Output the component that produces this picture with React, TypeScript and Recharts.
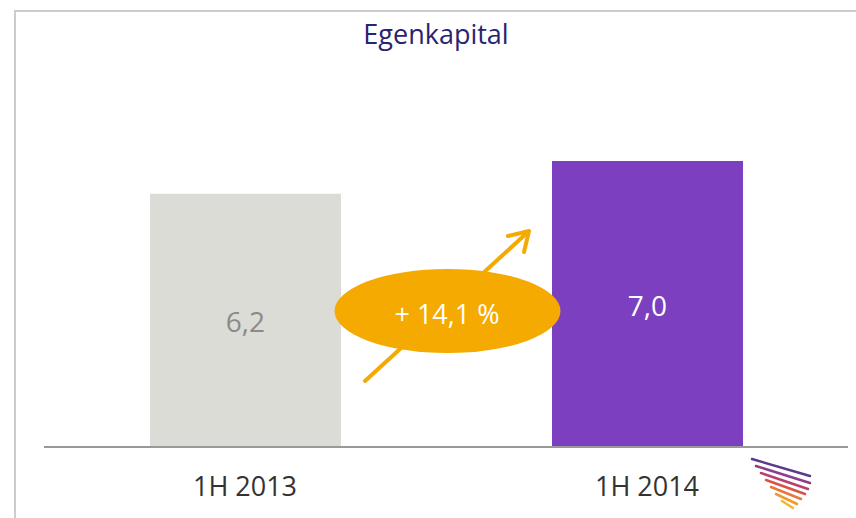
import { BarChart, Bar, XAxis, YAxis, Cell, LabelList } from 'recharts';

const periods = ['1H 2013', '1H 2014'];
const equity = [6.2, 7.0];
const barColors = ['#dcdcd6', '#7b3fbf'];
const labelColors = ['#8a8a8a', '#ffffff'];
const growthLabel = '+ 14,1 %';

const data = periods.map((p, i) => ({ period: p, value: equity[i] }));

const FONT = "'Open Sans', 'Noto Sans', sans-serif";

// inside-bar value labels, coloured per bar
const ValueLabel = (props: any) => {
  const { x, y, width, height, value, index } = props;
  return (
    <text
      x={x + width / 2}
      y={y + height / 2 + 1}
      textAnchor="middle"
      dominantBaseline="central"
      fill={labelColors[index]}
      fontSize={28}
      fontFamily={FONT}
    >
      {value.toFixed(1).replace('.', ',')}
    </text>
  );
};

const logoStripes = [
  { x1: 752, y1: 459, x2: 810, y2: 476, c: '#5b3a8e' },
  { x1: 756, y1: 466, x2: 810, y2: 483, c: '#8a3f8c' },
  { x1: 761, y1: 473, x2: 808, y2: 489, c: '#b8406e' },
  { x1: 766, y1: 480, x2: 805, y2: 494, c: '#d9534a' },
  { x1: 771, y1: 487, x2: 801, y2: 499, c: '#e8783a' },
  { x1: 776, y1: 494, x2: 797, y2: 504, c: '#f09a2e' },
  { x1: 782, y1: 501, x2: 793, y2: 508, c: '#f4b530' },
];

export default function App() {
  return (
    <div style={{ position: 'absolute', left: 0, top: 0, width: 856, height: 518, background: '#fff', fontFamily: FONT }}>
      <svg width={856} height={518} style={{ position: 'absolute', left: 0, top: 0 }}>
        <rect x={15} y={11} width={900} height={600} fill="none" stroke="#cccccc" strokeWidth={2} />
        <text x={436} y={33} textAnchor="middle" dominantBaseline="central" fill="#2b2370" fontSize={27} fontFamily={FONT}>
          Egenkapital
        </text>
      </svg>
      <div style={{ position: 'absolute', left: 0, top: 0 }}>
        <BarChart width={856} height={518} data={data} margin={{ top: 161, right: 8, bottom: 0, left: 44 }} barCategoryGap={0}>
          <YAxis hide domain={[0, 7]} />
          <XAxis
            dataKey="period"
            height={71}
            axisLine={{ stroke: '#999999', strokeWidth: 2 }}
            tickLine={false}
            tick={{ fill: '#333333', fontSize: 27, fontFamily: FONT }}
            tickMargin={24}
          />
          <Bar dataKey="value" barSize={191} isAnimationActive={false}>
            {data.map((d, i) => (
              <Cell key={d.period} fill={barColors[i]} />
            ))}
            <LabelList dataKey="value" content={ValueLabel} />
          </Bar>
        </BarChart>
      </div>
      <svg width={856} height={518} style={{ position: 'absolute', left: 0, top: 0, pointerEvents: 'none' }}>
        <line x1={365} y1={381} x2={528} y2={232} stroke="#f4aa00" strokeWidth={4} strokeLinecap="round" />
        <polyline points="508,236 529,231 524,252" fill="none" stroke="#f4aa00" strokeWidth={4} strokeLinecap="round" strokeLinejoin="round" />
        <ellipse cx={447.5} cy={311} rx={113} ry={42} fill="#f4aa00" />
        <text x={447} y={313} textAnchor="middle" dominantBaseline="central" fill="#ffffff" fontSize={27} fontFamily={FONT}>
          {growthLabel}
        </text>
        {logoStripes.map((s, i) => (
          <line key={i} x1={s.x1} y1={s.y1} x2={s.x2} y2={s.y2} stroke={s.c} strokeWidth={2.5} strokeLinecap="round" />
        ))}
      </svg>
    </div>
  );
}
